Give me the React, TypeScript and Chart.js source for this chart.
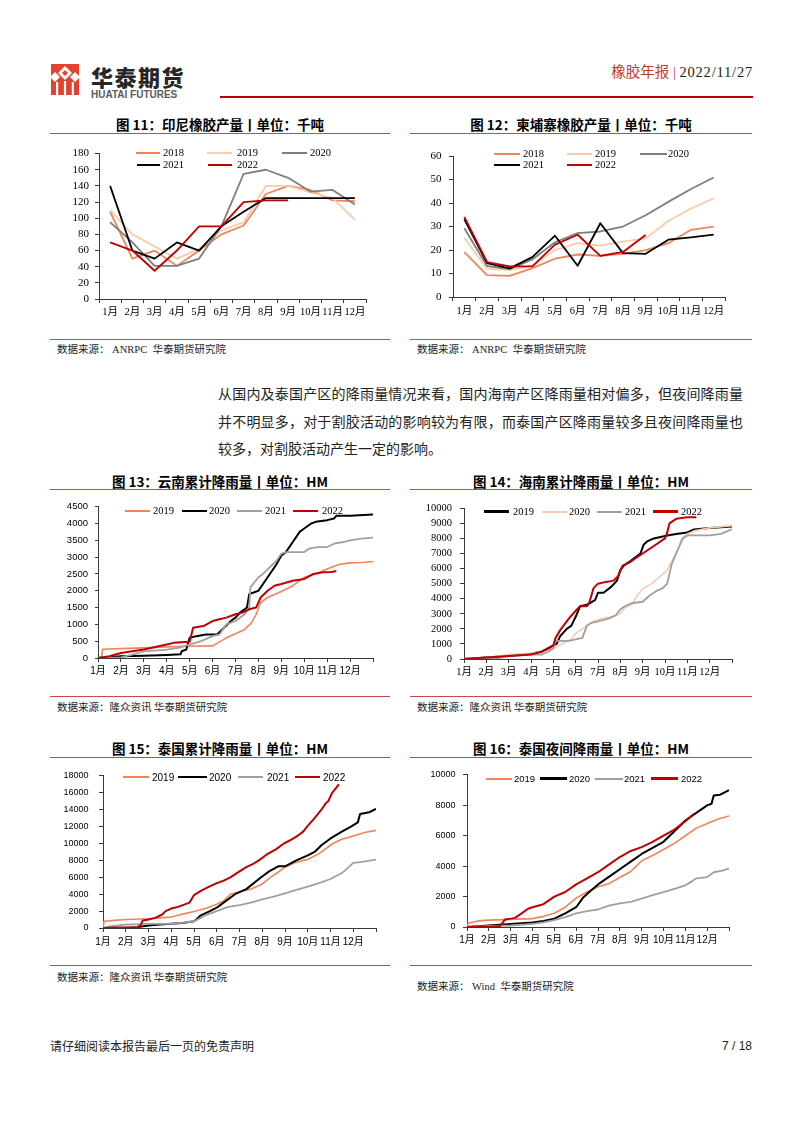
import React, { useEffect, useRef } from "react";
import { Chart, registerables } from "chart.js";

Chart.register(...registerables);

// ---------- shared ----------
const MONTHS = ["1月", "2月", "3月", "4月", "5月", "6月", "7月", "8月", "9月", "10月", "11月", "12月"];

const SERIF = "'Liberation Serif', 'Noto Sans CJK SC', serif";
const SANS = "'Liberation Sans', 'Noto Sans CJK SC', sans-serif";
const CJK = "'Noto Sans CJK SC', sans-serif";

const ORANGE = "#F0855A";
const PINK = "#F8CBAD";
const GRAY_D = "#7F7F7F";
const GRAY_L = "#A0A0A0";
const BLACK = "#000000";
const RED = "#C00000";
const LINE_RED = "#C84848";

type Pt = [number, number];

// ---------- 图11 印尼橡胶产量 (千吨) ----------
const idn2018 = [108, 50, 60, 41, 60, 80, 91, 130, 140, 135, 122, 121];
const idn2019 = [110, 80, 65, 50, 62, 85, 95, 140, 140, 132, 125, 98];
const idn2020 = [95, 70, 41, 41, 50, 90, 155, 160, 150, 133, 135, 117];
const idn2021 = [140, 60, 50, 70, 60, 90, 108, 125, 125, 125, 125, 125];
const idn2022 = [70, 60, 35, 60, 90, 90, 120, 122, 122];

// ---------- 图12 柬埔寨橡胶产量 (千吨) ----------
const khm2018 = [19.1, 9.3, 9.0, 12.3, 16.3, 18.1, 17.5, 18.4, 20, 22.9, 28.6, 30];
const khm2019 = [25.2, 12, 11.6, 13.2, 20, 22.9, 21.9, 23.6, 25, 32.4, 37.7, 42];
const khm2020 = [29.3, 13.2, 11.9, 16, 23.3, 27.2, 27.9, 30, 34.8, 40.5, 46, 50.9];
const khm2021 = [33.1, 14.4, 12.2, 17, 26.1, 13.3, 31.4, 18.7, 18.4, 24.4, 25.4, 26.6];
const khm2022 = [34.1, 14.9, 13, 13, 22.3, 26.5, 17.5, 19.2, 26.4];

// ---------- 图13 云南累计降雨量 (x = 月份位置, y = HM) ----------
const yn2019: Pt[] = [[0, 0], [0.15, 0], [0.2, 260], [1, 280], [2, 300], [3, 330], [4, 350], [5, 360], [5.3, 480], [5.6, 600], [6, 720], [6.4, 850], [6.7, 1050], [6.9, 1300], [7.1, 1650], [7.4, 1800], [8.0, 1980], [8.5, 2150], [9.0, 2400], [9.5, 2500], [10.0, 2650], [10.5, 2780], [11, 2830], [11.5, 2840], [12, 2870]];
const yn2020: Pt[] = [[0, 0], [1, 50], [2, 70], [3, 90], [3.6, 110], [3.65, 200], [3.85, 250], [4.0, 600], [4.3, 650], [4.7, 700], [5.2, 700], [5.5, 900], [5.8, 1100], [6.0, 1200], [6.2, 1350], [6.5, 1500], [6.6, 1900], [7.0, 2000], [7.2, 2200], [7.5, 2500], [7.8, 2800], [8.0, 3050], [8.2, 3150], [8.5, 3450], [8.8, 3750], [9.0, 3850], [9.3, 4000], [9.5, 4050], [10, 4100], [10.3, 4150], [10.4, 4230], [11, 4230], [12, 4270]];
const yn2021: Pt[] = [[0, 0], [1, 20], [1.5, 100], [2, 200], [3, 250], [3.5, 300], [4, 400], [4.5, 500], [5, 650], [5.3, 700], [5.6, 1000], [6.0, 1100], [6.4, 1300], [6.6, 1500], [6.65, 2100], [7.0, 2400], [7.2, 2500], [7.5, 2700], [7.8, 2900], [8.0, 3100], [8.2, 3150], [9.0, 3150], [9.2, 3250], [9.6, 3300], [10.0, 3300], [10.3, 3400], [10.7, 3450], [11.0, 3500], [11.5, 3550], [12, 3580]];
const yn2022: Pt[] = [[0, 0], [0.5, 50], [1, 150], [1.5, 200], [2, 250], [2.5, 330], [3, 400], [3.3, 450], [4.0, 480], [4.15, 900], [4.6, 950], [5.0, 1100], [5.3, 1150], [5.6, 1200], [6.0, 1300], [6.3, 1350], [6.6, 1450], [6.9, 1500], [7.1, 1800], [7.4, 2000], [7.7, 2150], [8.0, 2200], [8.5, 2300], [9.0, 2350], [9.4, 2500], [9.8, 2550], [10.2, 2560], [10.4, 2590]];

// ---------- 图14 海南累计降雨量 ----------
const hn2019: Pt[] = [[0, 0], [1, 100], [2, 200], [3, 350], [3.5, 500], [4.0, 900], [4.15, 1000], [4.3, 1500], [4.6, 2000], [4.8, 2200], [5.0, 2800], [5.2, 3500], [5.5, 3600], [5.87, 3900], [6.0, 4400], [6.25, 4400], [6.6, 4800], [6.85, 5200], [7.0, 5900], [7.15, 6200], [7.45, 6500], [7.9, 7000], [8.05, 7600], [8.2, 7800], [8.5, 8000], [9.1, 8200], [9.5, 8300], [10, 8400], [10.3, 8600], [11, 8700], [12, 8800]];
const hn2020: Pt[] = [[0, 0], [1, 100], [2, 300], [3, 400], [3.5, 500], [4, 700], [4.5, 1100], [4.8, 1300], [5.0, 1700], [5.3, 2000], [5.8, 2500], [6.2, 2700], [6.6, 2800], [7.0, 3000], [7.2, 3400], [7.5, 3600], [7.8, 4300], [8.0, 4650], [8.4, 5000], [8.8, 5500], [9.1, 5900], [9.3, 6500], [9.5, 7000], [9.75, 8000], [10.0, 8300], [10.3, 8500], [11, 8700], [12, 8850]];
const hn2021: Pt[] = [[0, 0], [1.4, 0], [2, 200], [3, 300], [3.5, 300], [3.8, 500], [4.0, 700], [4.1, 1200], [4.7, 1200], [5.0, 1300], [5.3, 1400], [5.5, 2200], [5.7, 2400], [6.0, 2500], [6.5, 2700], [6.8, 2900], [7.0, 3300], [7.2, 3500], [7.5, 3700], [8.0, 3800], [8.3, 4200], [8.6, 4500], [8.9, 4700], [9.1, 5000], [9.3, 6300], [9.5, 7000], [9.8, 8000], [10.0, 8200], [11, 8200], [11.5, 8300], [12, 8600]];
const hn2022: Pt[] = [[0, 0], [1, 100], [2, 200], [3, 300], [3.5, 500], [3.8, 700], [4.0, 900], [4.1, 1400], [4.3, 1900], [4.5, 2300], [4.7, 2700], [5.0, 3200], [5.2, 3500], [5.5, 3500], [5.6, 3700], [5.8, 4700], [6.0, 5000], [6.3, 5100], [6.7, 5200], [6.9, 5500], [7.1, 6200], [7.4, 6400], [7.7, 6700], [8.0, 7000], [8.2, 7200], [8.5, 7500], [9.0, 8000], [9.1, 8400], [9.2, 9000], [9.5, 9300], [10.0, 9400], [10.4, 9400]];

// ---------- 图15 泰国累计降雨量 ----------
const th2019: Pt[] = [[0, 0], [0.05, 800], [0.5, 900], [1, 1000], [2, 1100], [2.5, 1200], [3, 1300], [3.3, 1500], [3.6, 1700], [4.0, 1950], [4.5, 2300], [5.0, 2800], [5.3, 3200], [5.6, 4000], [6.0, 4300], [6.5, 4600], [7.0, 5200], [7.35, 6000], [7.7, 6600], [8.0, 7200], [8.4, 7700], [8.8, 8000], [9.0, 8100], [9.5, 8800], [10.1, 10000], [10.5, 10500], [11.0, 10900], [11.5, 11300], [12, 11550]];
const th2020: Pt[] = [[0, 0], [1, 0], [1.5, 100], [2, 300], [2.5, 400], [3, 500], [3.5, 600], [4, 800], [4.1, 1000], [4.3, 1500], [4.7, 2000], [5.0, 2400], [5.3, 3000], [5.8, 4000], [6.3, 4600], [6.95, 6000], [7.3, 6700], [7.7, 7300], [8.0, 7300], [8.5, 8000], [9.0, 8600], [9.3, 9000], [9.6, 9800], [10.0, 10600], [10.5, 11400], [10.9, 12000], [11.2, 12500], [11.3, 13500], [11.7, 13700], [12, 14100]];
const th2021: Pt[] = [[0, 0], [0.3, 200], [1, 400], [2, 500], [3, 500], [3.5, 600], [4, 800], [4.3, 1200], [4.5, 1500], [4.7, 1700], [5.0, 2000], [5.5, 2500], [6, 2700], [6.5, 3000], [7, 3400], [7.5, 3700], [8, 4100], [8.5, 4500], [9, 4900], [9.5, 5300], [10, 5800], [10.5, 6500], [10.8, 7200], [11, 7700], [11.3, 7800], [12, 8100]];
const th2022: Pt[] = [[0, 0], [0.5, 50], [1, 50], [1.5, 100], [1.65, 300], [1.75, 900], [2.0, 1000], [2.3, 1200], [2.6, 1600], [2.75, 2000], [3.0, 2300], [3.3, 2500], [3.6, 2800], [3.8, 3000], [4.0, 3900], [4.3, 4400], [4.6, 4800], [5.0, 5300], [5.3, 5600], [5.6, 6000], [6.0, 6700], [6.3, 7200], [6.6, 7600], [6.85, 8000], [7.2, 8700], [7.6, 9300], [7.95, 10000], [8.3, 10500], [8.6, 11000], [8.8, 11400], [8.97, 12000], [9.3, 13000], [9.6, 14000], [9.8, 14800], [9.9, 15000], [10.07, 16000], [10.37, 17000]];

// ---------- 图16 泰国夜间降雨量 ----------
const tn2019: Pt[] = [[0, 0], [0.05, 250], [0.5, 400], [1, 450], [2, 500], [3, 550], [3.5, 700], [4, 900], [4.5, 1300], [5, 1900], [5.5, 2300], [6, 2650], [6.5, 2850], [7, 3250], [7.5, 3650], [8, 4350], [8.5, 4700], [9, 5100], [9.5, 5500], [10, 6000], [10.5, 6500], [11, 6800], [11.5, 7100], [12, 7300]];
const tn2020: Pt[] = [[0, 0], [1, 100], [2, 200], [3, 300], [3.5, 400], [4, 550], [4.5, 900], [5, 1300], [5.3, 1900], [5.6, 2300], [6, 2800], [6.5, 3300], [7, 3800], [7.5, 4300], [8, 4800], [8.5, 5200], [9, 5600], [9.5, 6300], [10, 7000], [10.5, 7500], [11, 8000], [11.2, 8100], [11.3, 8650], [11.6, 8700], [12, 9000]];
const tn2021: Pt[] = [[0, 0], [1, 50], [2, 100], [3, 200], [3.5, 300], [4, 450], [4.5, 650], [5, 900], [5.5, 1050], [6, 1150], [6.5, 1400], [7, 1550], [7.5, 1650], [8, 1870], [8.5, 2100], [9, 2300], [9.5, 2500], [10, 2740], [10.3, 3000], [10.5, 3200], [11, 3280], [11.3, 3600], [11.7, 3700], [12, 3850]];
const tn2022: Pt[] = [[0, 0], [1, 0], [1.5, 50], [1.75, 500], [2.0, 550], [2.2, 600], [2.5, 900], [2.8, 1200], [3.0, 1300], [3.5, 1500], [4.0, 2000], [4.5, 2300], [5.0, 2800], [5.5, 3200], [6.0, 3600], [6.5, 4100], [7.0, 4600], [7.5, 5000], [8.0, 5250], [8.5, 5600], [9.0, 6000], [9.5, 6400], [10.0, 6950], [10.4, 7450]];

// ---------- chart component ----------
interface SeriesSpec { label: string; color: string; width: number; values: number[] | Pt[]; }
interface ChartSpec {
  kind: "cat" | "month";
  L: number; T: number; R: number; B: number;
  yMax: number; yStep: number;
  yFont: string; ySize: number; yPad: number; yTick: number;
  xFont: string; xSize: number; xPad: number;
  series: SeriesSpec[];
}

const PL = 56, PT = 12, PR = 16, PB = 34;
const AXIS = "#3A3A3A";

function ChartCanvas({ spec }: { spec: ChartSpec }) {
  const ref = useRef<HTMLCanvasElement | null>(null);
  const w = Math.round(spec.R - spec.L) + PL + PR;
  const h = Math.round(spec.B - spec.T) + PT + PB;
  useEffect(() => {
    const cv = ref.current;
    if (!cv) return;
    const datasets = spec.series.slice().reverse().map((s) => ({
      label: s.label,
      data: spec.kind === "cat" ? (s.values as number[]) : (s.values as Pt[]).map(([x, y]) => ({ x, y })),
      borderColor: s.color,
      backgroundColor: s.color,
      borderWidth: s.width,
      pointRadius: 0,
      tension: 0,
      fill: false,
      borderJoinStyle: "round" as const,
    }));
    const gridCommon = { display: true, drawOnChartArea: false, color: AXIS, lineWidth: 1, tickLength: 4 };
    const xScale: any =
      spec.kind === "cat"
        ? {
            type: "category",
            offset: true,
            grid: { ...gridCommon, offset: true },
            border: { display: true, color: AXIS, width: 1 },
            ticks: { font: { family: spec.xFont, size: spec.xSize }, color: "#000", padding: spec.xPad, maxRotation: 0, autoSkip: false },
            afterFit: (s: any) => { s.height = PB; },
          }
        : {
            type: "linear",
            min: 0,
            max: 12,
            grid: gridCommon,
            border: { display: true, color: AXIS, width: 1 },
            ticks: {
              stepSize: 1,
              autoSkip: false,
              maxRotation: 0,
              font: { family: spec.xFont, size: spec.xSize },
              color: "#000",
              padding: spec.xPad,
              callback: (v: any) => (v >= 0 && v < 12 ? MONTHS[Math.round(v)] : ""),
            },
            afterFit: (s: any) => { s.height = PB; },
          };
    const chart = new Chart(cv, {
      type: "line",
      data: { labels: spec.kind === "cat" ? MONTHS : undefined, datasets: datasets as any },
      options: {
        responsive: false,
        maintainAspectRatio: false,
        animation: false,
        layout: { padding: { left: 0, top: PT, right: PR, bottom: 0 } },
        plugins: { legend: { display: false }, tooltip: { enabled: false }, title: { display: false } },
        scales: {
          x: xScale,
          y: {
            type: "linear",
            min: 0,
            max: spec.yMax,
            grid: { ...gridCommon, tickLength: spec.yTick },
            border: { display: true, color: AXIS, width: 1 },
            ticks: {
              stepSize: spec.yStep,
              autoSkip: false,
              font: { family: spec.yFont, size: spec.ySize },
              color: "#000",
              padding: spec.yPad,
              callback: (v: any) => String(v),
            },
            afterFit: (s: any) => { s.width = PL; },
          } as any,
        },
      },
    });
    return () => chart.destroy();
  }, []);
  return (
    <canvas
      ref={ref}
      width={w}
      height={h}
      style={{ position: "absolute", left: Math.round(spec.L) - PL, top: Math.round(spec.T) - PT, width: w, height: h }}
    />
  );
}

// ---------- text helpers ----------
function Txt(p: {
  x: number; cy: number; size: number; text: React.ReactNode;
  font?: string; color?: string; weight?: number; align?: "left" | "center" | "right"; w?: number; ls?: number;
}) {
  const lh = Math.round(p.size * 1.3);
  const style: any = {
    position: "absolute",
    top: p.cy - lh / 2,
    fontSize: p.size,
    lineHeight: lh + "px",
    fontFamily: p.font ?? CJK,
    color: p.color ?? "#000",
    fontWeight: p.weight ?? 400,
    whiteSpace: "pre",
    letterSpacing: p.ls ?? 0,
  };
  if (p.align === "center") { style.left = p.x; style.width = p.w; style.textAlign = "center"; }
  else if (p.align === "right") { style.right = 802 - p.x; }
  else style.left = p.x;
  return <div style={style}>{p.text}</div>;
}

function HLine({ x, y, w, h = 1, color = LINE_RED }: { x: number; y: number; w: number; h?: number; color?: string }) {
  return <div style={{ position: "absolute", left: x, top: y, width: w, height: h, background: color }} />;
}

interface LegItem { label: string; color: string; lw: number; x1: number; x2: number; tx: number; y: number; }
function Legend({ items, font, size }: { items: LegItem[]; font: string; size: number }) {
  return (
    <>
      {items.map((it) => (
        <React.Fragment key={it.label + it.tx + it.y}>
          <div style={{ position: "absolute", left: it.x1, top: it.y - it.lw / 2, width: it.x2 - it.x1, height: it.lw, background: it.color }} />
          <Txt x={it.tx} cy={it.y} size={size} text={it.label} font={font} />
        </React.Fragment>
      ))}
    </>
  );
}

// ---------- specs ----------
const spec11: ChartSpec = {
  kind: "cat", L: 99, T: 153, R: 366, B: 299, yMax: 180, yStep: 20,
  yFont: SERIF, ySize: 11, yPad: 6, yTick: 4, xFont: SERIF, xSize: 10.5, xPad: 2.5,
  series: [
    { label: "2018", color: ORANGE, width: 1.8, values: idn2018 },
    { label: "2019", color: PINK, width: 1.8, values: idn2019 },
    { label: "2020", color: GRAY_D, width: 1.8, values: idn2020 },
    { label: "2021", color: BLACK, width: 1.8, values: idn2021 },
    { label: "2022", color: RED, width: 1.8, values: idn2022 },
  ],
};
const spec12: ChartSpec = {
  kind: "cat", L: 453, T: 154, R: 725, B: 297, yMax: 60, yStep: 10,
  yFont: SERIF, ySize: 11, yPad: 7.5, yTick: 4, xFont: SERIF, xSize: 10.5, xPad: 3.5,
  series: [
    { label: "2018", color: ORANGE, width: 1.8, values: khm2018 },
    { label: "2019", color: PINK, width: 1.8, values: khm2019 },
    { label: "2020", color: GRAY_D, width: 1.8, values: khm2020 },
    { label: "2021", color: BLACK, width: 1.8, values: khm2021 },
    { label: "2022", color: RED, width: 1.8, values: khm2022 },
  ],
};
const spec13: ChartSpec = {
  kind: "month", L: 98, T: 506, R: 373, B: 658, yMax: 4500, yStep: 500,
  yFont: SANS, ySize: 9.5, yPad: 7, yTick: 3, xFont: SANS, xSize: 10, xPad: 3.5,
  series: [
    { label: "2019", color: ORANGE, width: 1.6, values: yn2019 },
    { label: "2020", color: BLACK, width: 2, values: yn2020 },
    { label: "2021", color: GRAY_L, width: 1.8, values: yn2021 },
    { label: "2022", color: RED, width: 2, values: yn2022 },
  ],
};
const spec14: ChartSpec = {
  kind: "month", L: 464, T: 506, R: 732, B: 659, yMax: 10000, yStep: 1000,
  yFont: SERIF, ySize: 10.5, yPad: 8, yTick: 4, xFont: SERIF, xSize: 10.5, xPad: 2.5,
  series: [
    { label: "2019", color: BLACK, width: 2, values: hn2019 },
    { label: "2020", color: PINK, width: 1.6, values: hn2020 },
    { label: "2021", color: GRAY_L, width: 1.8, values: hn2021 },
    { label: "2022", color: RED, width: 2, values: hn2022 },
  ],
};
const spec15: ChartSpec = {
  kind: "month", L: 103, T: 772, R: 376, B: 928, yMax: 18000, yStep: 2000,
  yFont: SANS, ySize: 9, yPad: 10.5, yTick: 4, xFont: SANS, xSize: 10, xPad: 4.5,
  series: [
    { label: "2019", color: ORANGE, width: 1.6, values: th2019 },
    { label: "2020", color: BLACK, width: 2, values: th2020 },
    { label: "2021", color: GRAY_L, width: 1.8, values: th2021 },
    { label: "2022", color: RED, width: 2, values: th2022 },
  ],
};
const spec16: ChartSpec = {
  kind: "month", L: 467, T: 774, R: 729, B: 927, yMax: 10000, yStep: 2000,
  yFont: SANS, ySize: 9, yPad: 7.5, yTick: 4, xFont: SANS, xSize: 10, xPad: 3.5,
  series: [
    { label: "2019", color: ORANGE, width: 1.6, values: tn2019 },
    { label: "2020", color: BLACK, width: 2, values: tn2020 },
    { label: "2021", color: GRAY_L, width: 1.8, values: tn2021 },
    { label: "2022", color: RED, width: 2, values: tn2022 },
  ],
};

const leg11: LegItem[] = [
  { label: "2018", color: ORANGE, lw: 2, x1: 136, x2: 160, tx: 163, y: 153 },
  { label: "2019", color: PINK, lw: 2, x1: 207, x2: 232, tx: 237, y: 153 },
  { label: "2020", color: GRAY_D, lw: 2, x1: 282, x2: 307, tx: 310, y: 153 },
  { label: "2021", color: BLACK, lw: 2, x1: 137, x2: 160, tx: 163, y: 164.5 },
  { label: "2022", color: RED, lw: 2, x1: 208, x2: 232, tx: 237, y: 164.5 },
];
const leg12: LegItem[] = [
  { label: "2018", color: ORANGE, lw: 2, x1: 494, x2: 520, tx: 523, y: 153.5 },
  { label: "2019", color: PINK, lw: 2, x1: 567, x2: 592, tx: 595, y: 153.5 },
  { label: "2020", color: GRAY_D, lw: 2, x1: 640, x2: 667, tx: 668, y: 153.5 },
  { label: "2021", color: BLACK, lw: 2, x1: 494, x2: 520, tx: 523, y: 165 },
  { label: "2022", color: RED, lw: 2, x1: 567, x2: 592, tx: 595, y: 165 },
];
const leg13: LegItem[] = [
  { label: "2019", color: ORANGE, lw: 2, x1: 125, x2: 150, tx: 153, y: 511 },
  { label: "2020", color: BLACK, lw: 2.5, x1: 182, x2: 207, tx: 209, y: 511 },
  { label: "2021", color: GRAY_L, lw: 2, x1: 237, x2: 262, tx: 265, y: 511 },
  { label: "2022", color: RED, lw: 2.5, x1: 293, x2: 318, tx: 322, y: 511 },
];
const leg14: LegItem[] = [
  { label: "2019", color: BLACK, lw: 2.5, x1: 484, x2: 509, tx: 513, y: 511.5 },
  { label: "2020", color: PINK, lw: 2, x1: 542, x2: 567, tx: 569, y: 511.5 },
  { label: "2021", color: GRAY_L, lw: 2, x1: 597, x2: 622, tx: 625, y: 511.5 },
  { label: "2022", color: RED, lw: 2.5, x1: 653, x2: 678, tx: 681, y: 511.5 },
];
const leg15: LegItem[] = [
  { label: "2019", color: ORANGE, lw: 2, x1: 123, x2: 149, tx: 152, y: 777 },
  { label: "2020", color: BLACK, lw: 2.5, x1: 178, x2: 207, tx: 209, y: 777 },
  { label: "2021", color: GRAY_L, lw: 2, x1: 238, x2: 263, tx: 267, y: 777 },
  { label: "2022", color: RED, lw: 2.5, x1: 295, x2: 320, tx: 323, y: 777 },
];
const leg16: LegItem[] = [
  { label: "2019", color: ORANGE, lw: 2, x1: 486, x2: 512, tx: 514, y: 778.5 },
  { label: "2020", color: BLACK, lw: 2.5, x1: 540, x2: 567, tx: 569, y: 778.5 },
  { label: "2021", color: GRAY_L, lw: 2, x1: 595, x2: 623, tx: 624, y: 778.5 },
  { label: "2022", color: RED, lw: 2.5, x1: 651, x2: 678, tx: 681, y: 778.5 },
];

const PARA_LINES = [
  "从国内及泰国产区的降雨量情况来看，国内海南产区降雨量相对偏多，但夜间降雨量",
  "并不明显多，对于割胶活动的影响较为有限，而泰国产区降雨量较多且夜间降雨量也",
  "较多，对割胶活动产生一定的影响。",
];

function Logo() {
  return (
    <svg width="28" height="31" viewBox="0 0 28 31" style={{ position: "absolute", left: 51, top: 64 }}>
      <rect x="0" y="0" width="28" height="31" fill="#E5412F" />
      <polygon points="14,2 21,9 14,16 7,9" fill="#fff" />
      <polygon points="14,6 17,9 14,12 11,9" fill="#E5412F" />
      <polygon points="4,8 9,13 4,18 0,14 0,12" fill="#fff" />
      <polygon points="24,8 28,12 28,14 24,18 19,13" fill="#fff" />
      <rect x="5" y="18" width="2.2" height="13" fill="#fff" />
      <rect x="12.9" y="17" width="2.2" height="14" fill="#fff" />
      <rect x="20.8" y="18" width="2.2" height="13" fill="#fff" />
    </svg>
  );
}

export default function App() {
  return (
    <div style={{ position: "absolute", left: 0, top: 0, width: 802, height: 1133, background: "#fff", overflow: "hidden" }}>
      {/* header */}
      <Logo />
      <Txt x={91} cy={76.5} size={22} text="华泰期货" weight={900} color="#262626" ls={1.5} />
      <Txt x={91} cy={94.7} size={10} text="HUATAI FUTURES" font={SANS} weight={700} color="#5A5A5A" />
      <Txt
        x={753}
        cy={72}
        size={14.5}
        align="right"
        font={SERIF}
        text={
          <>
            <span style={{ color: "#C0392B" }}>橡胶年报</span>
            <span style={{ color: "#C0392B" }}> | </span>
            <span style={{ color: "#222", letterSpacing: 0.8 }}>2022/11/27</span>
          </>
        }
      />
      <HLine x={220} y={96} w={533} h={2} color="#C00000" />

      {/* chart 11 / 12 */}
      <Txt x={50} w={340} align="center" cy={124} size={13.5} weight={700} text="图 11：印尼橡胶产量丨单位：千吨" />
      <Txt x={410} w={342} align="center" cy={124} size={13.5} weight={700} text="图 12：柬埔寨橡胶产量丨单位：千吨" />
      <HLine x={50} y={132.5} w={340} />
      <HLine x={410} y={132.5} w={342} />
      <ChartCanvas spec={spec11} />
      <ChartCanvas spec={spec12} />
      <Legend items={leg11} font={SERIF} size={10.5} />
      <Legend items={leg12} font={SERIF} size={10.5} />
      <HLine x={50} y={339} w={340} />
      <HLine x={410} y={339} w={342} />
      <Txt x={57} cy={349.5} size={10.5} font={SERIF} text="数据来源： ANRPC  华泰期货研究院" color="#222" />
      <Txt x={417} cy={349.5} size={10.5} font={SERIF} text="数据来源： ANRPC  华泰期货研究院" color="#222" />

      {/* paragraph */}
      {PARA_LINES.map((t, i) => (
        <div
          key={i}
          style={{
            position: "absolute",
            left: 218,
            top: 393 + i * 27.5 - 13,
            width: i < 2 ? 525 : undefined,
            fontFamily: CJK,
            fontSize: 14,
            lineHeight: "26px",
            color: "#222",
            whiteSpace: "nowrap",
            textAlign: i < 2 ? ("justify" as const) : ("left" as const),
            textAlignLast: i < 2 ? ("justify" as const) : ("left" as const),
          }}
        >
          {t}
        </div>
      ))}

      {/* chart 13 / 14 */}
      <Txt x={50} w={340} align="center" cy={481} size={13.5} weight={700} text="图 13：云南累计降雨量丨单位：HM" />
      <Txt x={410} w={342} align="center" cy={481} size={13.5} weight={700} text="图 14：海南累计降雨量丨单位：HM" />
      <HLine x={50} y={489} w={340} />
      <HLine x={410} y={489} w={342} />
      <ChartCanvas spec={spec13} />
      <ChartCanvas spec={spec14} />
      <Legend items={leg13} font={SERIF} size={10.5} />
      <Legend items={leg14} font={SERIF} size={10.5} />
      <HLine x={50} y={696} w={340} />
      <HLine x={410} y={696} w={342} />
      <Txt x={57} cy={707} size={10.5} text="数据来源：隆众资讯 华泰期货研究院" color="#222" />
      <Txt x={417} cy={707} size={10.5} text="数据来源：隆众资讯 华泰期货研究院" color="#222" />

      {/* chart 15 / 16 */}
      <Txt x={50} w={340} align="center" cy={748} size={13.5} weight={700} text="图 15：泰国累计降雨量丨单位：HM" />
      <Txt x={410} w={342} align="center" cy={748} size={13.5} weight={700} text="图 16：泰国夜间降雨量丨单位：HM" />
      <HLine x={50} y={756.5} w={340} />
      <HLine x={410} y={756.5} w={342} />
      <ChartCanvas spec={spec15} />
      <ChartCanvas spec={spec16} />
      <Legend items={leg15} font={SANS} size={10} />
      <Legend items={leg16} font={SANS} size={9.5} />
      <HLine x={50} y={965} w={340} />
      <HLine x={410} y={965} w={342} />
      <Txt x={57} cy={977} size={10.5} text="数据来源：隆众资讯 华泰期货研究院" color="#222" />
      <Txt x={417} cy={986.5} size={10.5} font={SERIF} text="数据来源： Wind  华泰期货研究院" color="#222" />

      {/* footer */}
      <Txt x={50} cy={1046} size={12} text="请仔细阅读本报告最后一页的免责声明" color="#222" />
      <Txt x={752} cy={1046} size={12} align="right" font={SANS} text="7 / 18" color="#222" />
    </div>
  );
}
